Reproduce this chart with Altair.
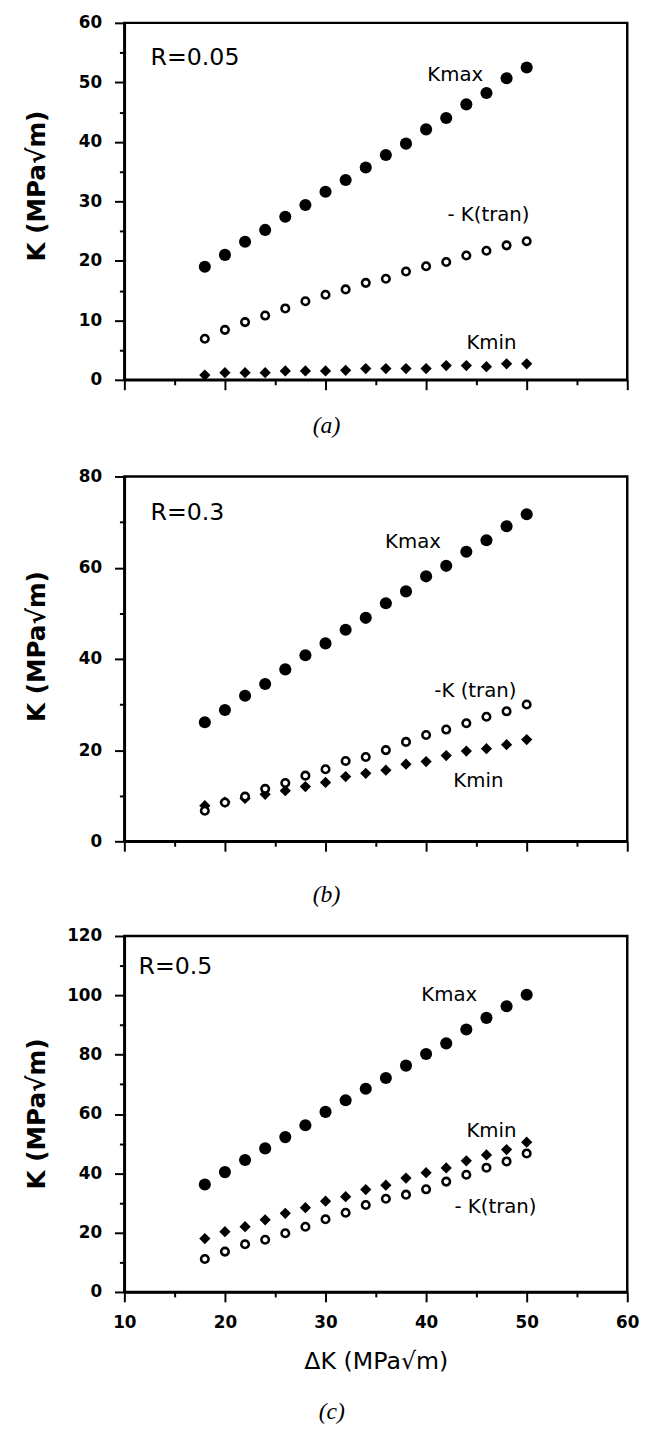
import altair as alt
import pandas as pd

# ---- data ----
delta_k = [18, 20, 22, 24, 26, 28, 30, 32, 34, 36, 38, 40, 42, 44, 46, 48, 50]

a_kmax = [19.0, 21.0, 23.2, 25.2, 27.4, 29.4, 31.6, 33.6, 35.7, 37.8, 39.7, 42.1, 44.0, 46.3, 48.2, 50.7, 52.5]
a_ktran = [6.9, 8.4, 9.7, 10.8, 12.0, 13.2, 14.3, 15.2, 16.3, 17.0, 18.2, 19.1, 19.8, 20.9, 21.7, 22.6, 23.3]
a_kmin = [0.8, 1.2, 1.2, 1.2, 1.5, 1.5, 1.5, 1.6, 1.9, 1.9, 1.9, 1.9, 2.4, 2.4, 2.2, 2.7, 2.7]

b_kmax = [26.1, 28.8, 31.9, 34.5, 37.7, 40.8, 43.4, 46.4, 49.0, 52.2, 54.8, 58.1, 60.4, 63.5, 66.0, 69.1, 71.7]
b_ktran = [6.7, 8.5, 9.8, 11.5, 12.8, 14.4, 15.8, 17.6, 18.5, 20.0, 21.8, 23.3, 24.5, 25.9, 27.3, 28.5, 30.0]
b_kmin = [7.8, 8.6, 9.4, 10.3, 11.1, 12.0, 12.9, 14.2, 14.9, 15.6, 16.9, 17.5, 18.8, 19.8, 20.3, 21.2, 22.3]

c_kmax = [36.2, 40.4, 44.5, 48.4, 52.2, 56.2, 60.7, 64.6, 68.5, 72.1, 76.3, 80.2, 83.8, 88.5, 92.4, 96.3, 100.2]
c_ktran = [11.1, 13.6, 16.1, 17.6, 19.8, 22.0, 24.5, 26.7, 29.3, 31.4, 32.8, 34.6, 37.2, 39.5, 41.9, 44.0, 46.7]
c_kmin = [18.0, 20.3, 22.0, 24.3, 26.5, 28.4, 30.6, 32.1, 34.5, 36.0, 38.4, 40.2, 41.8, 44.2, 46.2, 48.0, 50.5]

x_ticks = [10, 15, 20, 25, 30, 35, 40, 45, 50, 55, 60]
y_max = [60, 80, 120]
y_major = [10, 20, 20]
y_minor = [5, 10, 10]
panel_letters = ["(a)", "(b)", "(c)"]

r_labels = ["R=0.05", "R=0.3", "R=0.5"]
r_x = [12.6, 12.6, 11.4]
r_y = [54.0, 72.0, 109.4]

a_ann_text = ["Kmax", "- K(tran)", "Kmin"]
a_ann_x = [42.9, 46.2, 46.5]
a_ann_y = [51.2, 27.7, 6.1]
b_ann_text = ["Kmax", "-K (tran)", "Kmin"]
b_ann_x = [38.7, 44.9, 45.2]
b_ann_y = [65.7, 32.9, 13.2]
c_ann_text = ["Kmax", "Kmin", "- K(tran)"]
c_ann_x = [42.3, 46.5, 46.9]
c_ann_y = [100.1, 54.2, 28.6]

FONT = "DejaVu Sans"
WIDTH = 510


def panel(kmax, ktran, kmin, idx, ann_text, ann_x, ann_y, height, title_offset, show_x, title_y):
    n = len(delta_k)
    pts = pd.DataFrame({
        "dk": delta_k * 3,
        "K": kmax + ktran + kmin,
        "series": ["Kmax"] * n + ["Ktran"] * n + ["Kmin"] * n,
    })
    ann = pd.DataFrame({"dk": ann_x, "K": ann_y, "label": ann_text})
    rdf = pd.DataFrame({"dk": [r_x[idx]], "K": [r_y[idx]], "label": [r_labels[idx]]})

    ymax = y_max[idx]
    major = y_major[idx]
    minor = y_minor[idx]

    x_axis_kwargs = dict(
        values=x_ticks,
        labelExpr="datum.value % 10 === 0 ? datum.label : ''",
        tickSize={"condition": {"test": "datum.value % 10 === 0", "value": 10}, "value": 5},
        tickWidth=2, tickColor="black", domainColor="black", domainWidth=2.5,
        grid=False, labelFont=FONT, labelFontWeight="bold", labelFontSize=17,
        labelColor="black", labelPadding=13, labelFlush=False, labelOverlap=False,
        titleFont=FONT, titleFontWeight="normal", titleFontSize=24,
        titleColor="black", titlePadding=20,
    )
    if show_x:
        x_axis = alt.Axis(title="ΔK (MPa√m)", labels=True, **x_axis_kwargs)
    else:
        x_axis = alt.Axis(title=None, labels=False, **x_axis_kwargs)

    y_axis = alt.Axis(
        title="K (MPa√m)",
        values=list(range(0, ymax + 1, minor)),
        labelExpr=f"datum.value % {major} === 0 ? datum.label : ''",
        tickSize={"condition": {"test": f"datum.value % {major} === 0", "value": 10}, "value": 5},
        tickWidth=2, tickColor="black", domainColor="black", domainWidth=2.5,
        grid=False, labelFont=FONT, labelFontWeight="bold", labelFontSize=17,
        labelColor="black", labelPadding=13, labelFlush=False, labelOverlap=False,
        minExtent=60,
        titleFont=FONT, titleFontWeight="bold", titleFontSize=25,
        titleColor="black", titlePadding=16, titleY=title_y,
    )

    X = alt.X("dk:Q", scale=alt.Scale(domain=[10, 60], nice=False, zero=False), axis=x_axis)
    Y = alt.Y("K:Q", scale=alt.Scale(domain=[0, ymax], nice=False), axis=y_axis)

    base = alt.Chart(pts)
    kmin_layer = base.transform_filter(alt.datum.series == "Kmin").mark_point(
        shape="diamond", filled=True, color="black", size=130, opacity=1
    ).encode(x=X, y=Y)
    kmax_layer = base.transform_filter(alt.datum.series == "Kmax").mark_point(
        shape="circle", filled=True, color="black", size=150, opacity=1
    ).encode(x=X, y=Y)
    ktran_layer = base.transform_filter(alt.datum.series == "Ktran").mark_point(
        shape="circle", filled=True, fill="white", stroke="black", strokeWidth=2.6,
        size=58, opacity=1
    ).encode(x=X, y=Y)

    ann_layer = alt.Chart(ann).mark_text(
        font=FONT, fontSize=20, align="center", baseline="middle", color="black"
    ).encode(x=X, y=Y, text="label:N")
    r_layer = alt.Chart(rdf).mark_text(
        font=FONT, fontSize=24, align="left", baseline="middle", color="black"
    ).encode(x=X, y=Y, text="label:N")

    return alt.layer(kmin_layer, kmax_layer, ktran_layer, ann_layer, r_layer).properties(
        width=WIDTH,
        height=height,
        title=alt.TitleParams(
            text=panel_letters[idx], orient="bottom", anchor="middle", frame="bounds",
            font="Liberation Serif", fontStyle="italic", fontWeight="normal",
            fontSize=24, offset=title_offset, color="black",
        ),
    )


pa = panel(a_kmax, a_ktran, a_kmin, 0, a_ann_text, a_ann_x, a_ann_y, 362, 24, False, 165)
pb = panel(b_kmax, b_ktran, b_kmin, 1, b_ann_text, b_ann_x, b_ann_y, 370, 32, False, 172)
pc = panel(c_kmax, c_ktran, c_kmin, 2, c_ann_text, c_ann_x, c_ann_y, 361, 27, True, 180)

inner = alt.vconcat(pa, pb, spacing=26)
chart = alt.vconcat(inner, pc, spacing=16).properties(
    padding={"left": 15, "top": -6, "right": 5, "bottom": 0},
    background="white",
).configure_view(stroke="black", strokeWidth=2.5)

chart.save("out.html", embed_options={"renderer": "svg", "actions": False})
